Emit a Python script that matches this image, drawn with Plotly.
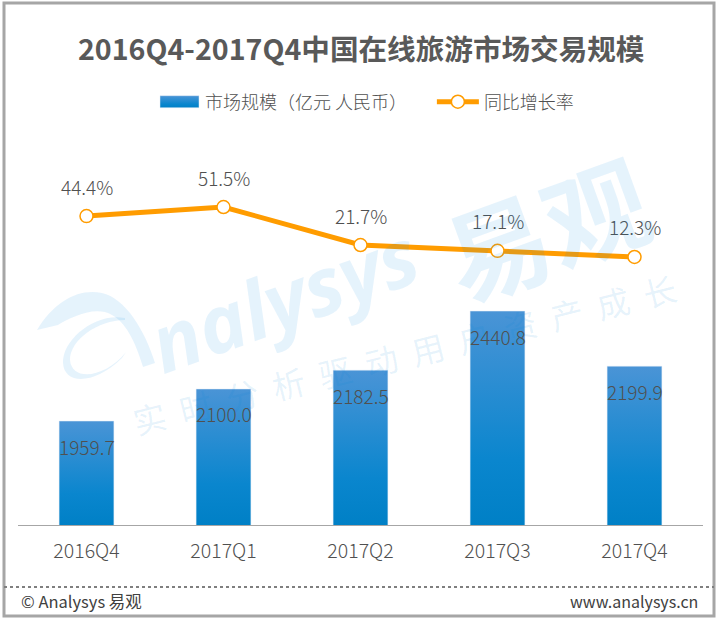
import plotly.graph_objects as go

# Data
# ----------------------
quarters = ['2016Q4', '2017Q1', '2017Q2', '2017Q3', '2017Q4']
market_size = [1959.7, 2100.0, 2182.5, 2440.8, 2199.9]
growth_rate = [44.4, 51.5, 21.7, 17.1, 12.3]
title_text = '2016Q4-2017Q4中国在线旅游市场交易规模'
bar_name = '市场规模（亿元 人民币）'
line_name = '同比增长率'

W, H = 716, 620
L, R, T, B = 18, 13, 130, 95
FONT = 'Noto Sans CJK SC'
GREY = '#595959'
LABEL = '#505050'
MARK = 'rgba(0,136,221,0.10)'


def px(x):
    return (x - L) / (W - L - R)


def py(y):
    return (H - B - y) / (H - T - B)


fig = go.Figure()

# the nbsp padding opens the gap between the two legend entries
fig.add_trace(go.Bar(x=quarters, y=market_size, name=bar_name + '\u00a0' * 5, marker_color='#0080c8', width=0.4))
fig.add_trace(go.Scatter(x=quarters, y=growth_rate, name=line_name, yaxis='y2', mode='lines+markers',
                         line=dict(color='#ff9c00', width=5),
                         marker=dict(size=13, color='white', line=dict(color='#ff9c00', width=1.5))))

annotations = []

# data labels
for q, v in zip(quarters, market_size):
    annotations.append(dict(x=q, y=v, yref='y', text=f'{v:.1f}', showarrow=False, yshift=-25, yanchor='middle',
                            font=dict(size=19, color=LABEL, family=FONT, weight=300)))
for q, v in zip(quarters, growth_rate):
    annotations.append(dict(x=q, y=v, yref='y2', text=f'{v}%', showarrow=False, yshift=30, yanchor='middle',
                            font=dict(size=19, color=LABEL, family=FONT, weight=300)))


def page_text(x, y, text, size, color, anchor='center', angle=0, family=FONT):
    annotations.append(dict(x=px(x), y=py(y), xref='paper', yref='paper', text=text, showarrow=False,
                            xanchor=anchor, yanchor='middle', textangle=angle,
                            font=dict(size=size, color=color, family=family)))


# title and footer
page_text(361, 47, f'<b>{title_text}</b>', 28.6, GREY)
page_text(19, 601, '© Analysys 易观', 16.5, '#404040', anchor='left')
page_text(700, 601, 'www.analysys.cn', 16, '#404040', anchor='right')

# watermark
page_text(283, 297, '<b><i>nalysys</i></b>', 80, MARK, angle=-20, family='Open Sans')
page_text(545, 225, '<b>易观</b>', 104, MARK, angle=-20)
page_text(405, 354, '  '.join('实时分析驱动用户资产成长'), 33, MARK, angle=-14)


# swoosh of the logo, frame and footer rule
def path(points):
    return ' '.join(c if isinstance(c, str) else f'{px(c[0]):.4f},{py(c[1]):.4f}' for c in points)


swoosh = path(['M', (37, 330), 'C', (55, 300), (80, 288), (102, 293), 'C', (125, 298), (145, 330), (155, 363),
               'L', (143, 367), 'C', (135, 340), (125, 322), (112, 315),
               'C', (95, 305), (70, 318), (58, 325), 'Z'])
ring = path(['M', (125, 318), 'C', (95, 312), (62, 340), (63, 363), 'C', (64, 385), (95, 385), (122, 358),
             'L', (126, 352), 'C', (105, 378), (72, 382), (70, 360), 'C', (70, 340), (98, 320), (125, 320), 'Z'])

shapes = [
    dict(type='path', path=swoosh, xref='paper', yref='paper', fillcolor=MARK, line_width=0),
    dict(type='path', path=ring, xref='paper', yref='paper', fillcolor=MARK, line_width=0),
    dict(type='rect', x0=px(4), x1=px(714), y0=py(616), y1=py(3), xref='paper', yref='paper',
         line=dict(color='#a6a6a6', width=3)),
    dict(type='line', x0=px(4), x1=px(714), y0=py(587), y1=py(587), xref='paper', yref='paper',
         line=dict(color='#7f7f7f', width=2, dash='dot')),
]

fig.update_layout(
    width=W, height=H,
    margin=dict(l=L, r=R, t=T, b=B),
    paper_bgcolor='white', plot_bgcolor='rgba(0,0,0,0)',
    annotations=annotations, shapes=shapes,
    legend=dict(orientation='h', x=px(366), xanchor='center', y=py(102), yanchor='middle',
                itemwidth=42, font=dict(size=18, color=LABEL, family=FONT, weight=300), bgcolor='rgba(0,0,0,0)'),
    xaxis=dict(showline=True, linecolor='#a6a6a6', linewidth=1, ticks='', showgrid=False,
               ticklabelstandoff=9, tickfont=dict(size=19.5, color=LABEL, family=FONT, weight=300)),
    yaxis=dict(range=[1505, 3233], visible=False, showgrid=False),
    yaxis2=dict(range=[-197.9, 111.9], overlaying='y', visible=False, showgrid=False),
)

# plotly bars take no gradient, so it is added to the drawn svg
script = """
document.body.style.margin = '0';
var gd = document.getElementById('{plot_id}');
var svg = gd.querySelector('svg.main-svg');
var ns = 'http://www.w3.org/2000/svg';
var defs = svg.querySelector('defs') || svg.insertBefore(document.createElementNS(ns, 'defs'), svg.firstChild);
var stops = [['0', '#4a94d6'], ['0.7', '#0a86ce'], ['1', '#0080c6']];
function fade(id, units, y1, y2) {
    var grad = document.createElementNS(ns, 'linearGradient');
    grad.setAttribute('id', id);
    grad.setAttribute('gradientUnits', units);
    grad.setAttribute('x1', '0'); grad.setAttribute('y1', y1);
    grad.setAttribute('x2', '0'); grad.setAttribute('y2', y2);
    stops.forEach(function (s) {
        var stop = document.createElementNS(ns, 'stop');
        stop.setAttribute('offset', s[0]);
        stop.setAttribute('stop-color', s[1]);
        grad.appendChild(stop);
    });
    defs.appendChild(grad);
    return 'url(#' + id + ')';
}
// bars run down to zero under the clip, so each one fades over its visible height
var base = gd._fullLayout.yaxis._length;
gd.querySelectorAll('.bars .point path').forEach(function (p, i) {
    p.style.fill = fade('barfade' + i, 'userSpaceOnUse', p.getBBox().y, base);
});
var swatch = gd.querySelector('.legend .legendbar path, .legend .legendpoints path');
if (swatch) {
    swatch.setAttribute('d', 'M20,6H-19V-6H20Z');
    swatch.style.fill = fade('legendfade', 'objectBoundingBox', '0', '1');
}
"""

fig.write_html("out.html", post_script=script, config={'displayModeBar': False})
